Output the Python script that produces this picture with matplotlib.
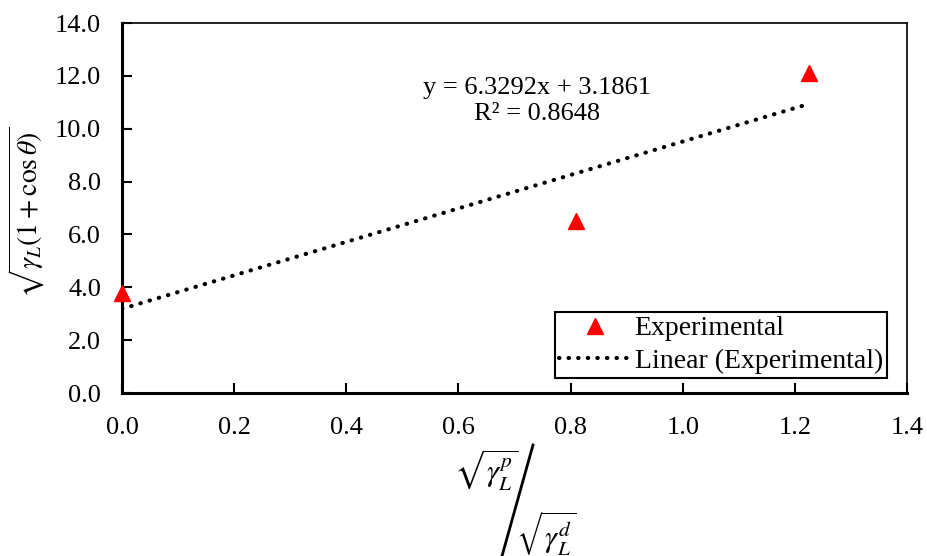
import matplotlib
matplotlib.use('Agg')
import matplotlib.pyplot as plt
import numpy as np
from matplotlib.lines import Line2D

plt.rcParams['font.family'] = ['Liberation Serif', 'DejaVu Serif']
plt.rcParams['mathtext.fontset'] = 'stix'

# data
x_exp = [0.0, 0.809, 1.2255]
y_exp = [3.8, 6.5, 12.1]

# trendline as given by the equation label
slope = 6.3292
intercept = 3.1861
r2 = 0.8648

x_ticks = [0.0, 0.2, 0.4, 0.6, 0.8, 1.0, 1.2, 1.4]
y_ticks = [0.0, 2.0, 4.0, 6.0, 8.0, 10.0, 12.0, 14.0]

fig = plt.figure(figsize=(9.28, 5.56), dpi=100)
ax = fig.add_axes([122 / 928, 1 - 393 / 556, (907 - 122) / 928, (393 - 23) / 556])

x_fit = np.array([min(x_exp), max(x_exp)])
ax.plot(x_fit, slope * x_fit + intercept, color='black', linestyle=(0, (0.1, 2.2)),
        linewidth=3, dash_capstyle='round', label='Linear (Experimental)', zorder=2)
ax.plot(x_exp, y_exp, linestyle='none', marker='^', color='#ff0000', markersize=11,
        label='Experimental', zorder=3, clip_on=False)

ax.set_xlim(0, 1.4)
ax.set_ylim(0, 14)
ax.set_xticks(x_ticks)
ax.set_yticks(y_ticks)
ax.set_xticklabels([f'{v:.1f}' for v in x_ticks])
ax.set_yticklabels([f'{v:.1f}' for v in y_ticks])
ax.tick_params(direction='in', length=7, width=1.5, labelsize=19)
ax.tick_params(axis='x', pad=17)
ax.tick_params(axis='y', pad=15)

for side in ['left', 'bottom']:
    ax.spines[side].set_linewidth(2.2)
for side in ['top', 'right']:
    ax.spines[side].set_linewidth(1.2)

ax.text(0.74, 11.05, f'y = {slope:.4f}x + {intercept:.4f}\nR² = {r2:.4f}',
        ha='center', va='center', fontsize=19, linespacing=1.25)

handles, labels = ax.get_legend_handles_labels()
leg = ax.legend(handles[::-1], labels[::-1], loc='lower right', fontsize=20,
                frameon=True, fancybox=False, edgecolor='black', framealpha=1,
                handlelength=2.6, handletextpad=0.12, borderpad=0.15,
                labelspacing=0.25, borderaxespad=0,
                bbox_to_anchor=((887 - 122) / 785, (393 - 378) / 370))
leg.get_frame().set_linewidth(1.5)

# y label
fig.text(27 / 928, 1 - 212 / 556, r'$\sqrt{\gamma_L(1+\cos\theta)}$', rotation=90,
         ha='center', va='center', fontsize=20)

# x label: stacked fraction with slanted bar, cut at bottom
fig.text(486 / 928, 1 - 470 / 556, r'$\sqrt{\gamma_L^p}$', ha='center', va='center', fontsize=22)
fig.add_artist(Line2D([533 / 928, 502 / 928], [1 - 445 / 556, 0], color='black',
                      linewidth=2, transform=fig.transFigure))
fig.text(546 / 928, 1 - 534 / 556, r'$\sqrt{\gamma_L^d}$', ha='center', va='center', fontsize=22)

fig.savefig('out.png', dpi=100)
